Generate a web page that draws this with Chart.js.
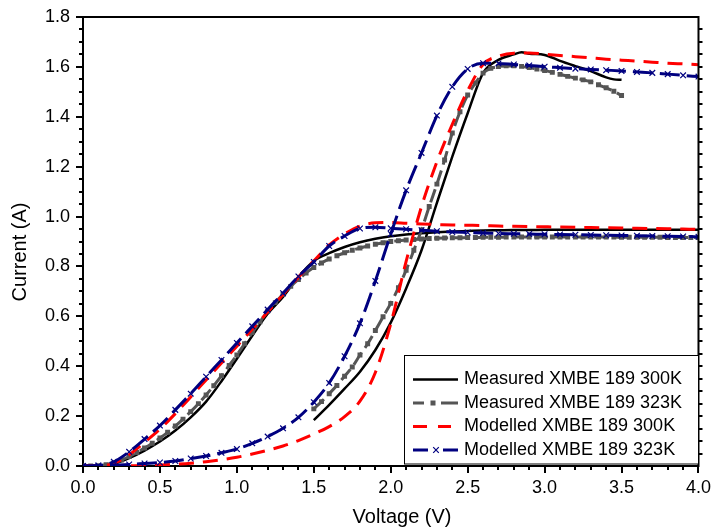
<!DOCTYPE html>
<html>
<head>
<meta charset="utf-8">
<script src="https://cdn.jsdelivr.net/npm/chart.js@4/dist/chart.umd.min.js"></script>
<style>
  html, body { margin: 0; padding: 0; background: #fff; }
  canvas { display: block; }
</style>
</head>
<body>
<canvas id="chart" width="715" height="532"></canvas>
<script>
// Voltage grids (V)
const V01 = [0.0,0.1,0.2,0.3,0.4,0.5,0.6,0.7,0.8,0.9,1.0,1.1,1.2,1.3,1.4,1.5,1.6,1.7,1.8,1.9,
             2.0,2.1,2.2,2.3,2.4,2.5,2.6,2.7,2.8,2.9,3.0,3.1,3.2,3.3,3.4,3.5,3.6,3.7,3.8,3.9,4.0];
const V005 = [0.00,0.05,0.10,0.15,0.20,0.25,0.30,0.35,0.40,0.45,0.50,0.55,0.60,0.65,0.70,0.75,
              0.80,0.85,0.90,0.95,1.00,1.05,1.10,1.15,1.20,1.25,1.30,1.35,1.40,1.45,1.50,1.55,
              1.60,1.65,1.70,1.75,1.80,1.85,1.90,1.95,2.00,2.05,2.10,2.15,2.20,2.25,2.30,2.35,
              2.40,2.45,2.50,2.55,2.60,2.65,2.70,2.75,2.80,2.85,2.90,2.95,3.00,3.05,3.10,3.15,
              3.20,3.25,3.30,3.35,3.40,3.45,3.50,3.55,3.60,3.65,3.70,3.75,3.80,3.85,3.90,3.95,4.00];
const V_MEAS_HIGH = [1.50,1.55,1.60,1.65,1.70,1.75,1.80,1.85,1.90,1.95,2.00,2.05,2.10,2.15,2.20,
                     2.25,2.30,2.35,2.40,2.45,2.50,2.55,2.60,2.65,2.70,2.75,2.80,2.85,2.90,2.95,
                     3.00,3.05,3.10,3.15,3.20,3.25,3.30,3.35,3.40,3.45,3.50];
const V_BLACK_HIGH = [1.5,1.6,1.7,1.8,1.9,2.0,2.1,2.2,2.3,2.4,2.5,2.6,2.7,2.8,2.85,2.9,3.0,3.1,3.2,3.3,3.4,3.45,3.5];

// Currents (A)
const measured300Low = [0,0.001,0.009,0.032,0.062,0.098,0.142,0.195,0.258,0.34,0.43,0.522,0.61,0.678,0.758,
                        0.822,0.853,0.878,0.897,0.911,0.921,0.928,0.933,0.937,0.94,0.942,0.944,0.945,0.946,0.946,
                        0.947,0.947,0.947,0.947,0.947,0.947,0.947,0.947,0.947,0.947,0.947];
const measured300High = [0.184,0.245,0.31,0.378,0.465,0.575,0.712,0.865,1.055,1.24,1.414,1.575,1.628,1.65,1.659,
                         1.653,1.648,1.624,1.603,1.583,1.558,1.55,1.548];
const measured323Low = [0,0,0.001,0.005,0.012,0.024,0.038,0.054,0.072,0.091,0.112,0.135,0.16,0.188,0.218,0.25,
                        0.285,0.322,0.362,0.403,0.445,0.49,0.535,0.578,0.62,0.655,0.688,0.72,0.748,0.774,0.796,0.814,
                        0.83,0.843,0.855,0.865,0.874,0.882,0.889,0.895,0.9,0.903,0.906,0.908,0.91,0.912,0.913,0.914,
                        0.915,0.915,0.916,0.916,0.917,0.917,0.917,0.918,0.918,0.918,0.918,0.918,0.918,0.918,0.918,0.918,
                        0.918,0.918,0.918,0.918,0.918,0.918,0.917,0.917,0.917,0.917,0.917,0.917,0.916,0.916,0.916,0.916,0.916];
const measured323High = [0.229,0.258,0.29,0.323,0.36,0.397,0.445,0.49,0.543,0.598,0.652,0.715,0.785,0.865,0.946,
                         1.04,1.13,1.227,1.335,1.42,1.487,1.535,1.575,1.594,1.601,1.604,1.604,1.602,1.597,1.591,
                         1.585,1.578,1.57,1.562,1.555,1.548,1.54,1.528,1.516,1.502,1.485];
const modelled300Low = [0,0,0.01,0.045,0.095,0.148,0.21,0.277,0.345,0.413,0.48,0.548,0.617,0.687,0.757,
                        0.822,0.886,0.93,0.962,0.975,0.976,0.973,0.97,0.968,0.966,0.965,0.964,0.962,0.961,0.96,
                        0.959,0.958,0.957,0.956,0.955,0.954,0.953,0.952,0.951,0.95,0.949];
const modelled300High = [0,0,0,0.001,0.002,0.004,0.007,0.011,0.017,0.025,0.035,0.048,0.063,0.08,0.102,
                         0.128,0.158,0.198,0.26,0.375,0.57,0.82,1.04,1.22,1.37,1.505,1.61,1.643,1.655,1.656,
                         1.651,1.646,1.641,1.636,1.631,1.627,1.623,1.619,1.615,1.612,1.609];
const modelled323Low = [0,0.002,0.017,0.057,0.108,0.162,0.225,0.29,0.358,0.425,0.493,0.56,0.627,0.693,0.76,
                        0.818,0.882,0.922,0.952,0.957,0.953,0.949,0.945,0.941,0.938,0.936,0.934,0.932,0.931,0.93,
                        0.929,0.928,0.927,0.926,0.925,0.924,0.923,0.922,0.921,0.92,0.919];
const modelled323High = [0,0.001,0.003,0.006,0.01,0.014,0.02,0.03,0.04,0.053,0.068,0.091,0.118,0.151,0.195,
                         0.256,0.333,0.44,0.572,0.742,0.93,1.105,1.255,1.405,1.52,1.592,1.615,1.614,1.61,1.606,
                         1.601,1.597,1.593,1.59,1.587,1.584,1.58,1.576,1.571,1.566,1.561];

const xTicks = [0.0, 0.5, 1.0, 1.5, 2.0, 2.5, 3.0, 3.5, 4.0];
const yTicks = [0.0, 0.2, 0.4, 0.6, 0.8, 1.0, 1.2, 1.4, 1.6, 1.8];
const seriesNames = ['Measured XMBE 189 300K', 'Measured XMBE 189 323K',
                     'Modelled XMBE 189 300K', 'Modelled XMBE 189 323K'];

const FONT = '"Liberation Sans", Arial, Helvetica, sans-serif';
const BLACK = '#000000', GREY = '#555555', RED = '#ff0000', NAVY = '#000080';

const pts = (xs, ys) => xs.map((x, i) => ({ x, y: ys[i] }));

const styles = [
  { borderColor: BLACK, borderWidth: 2.5, borderDash: [], pointRadius: 0, order: 4 },
  { borderColor: GREY, borderWidth: 3, borderDash: [14, 6], pointStyle: 'rect', pointRadius: 3.5,
    pointBackgroundColor: GREY, pointBorderColor: GREY, pointBorderWidth: 0, order: 3 },
  { borderColor: RED, borderWidth: 3, borderDash: [15, 9], pointRadius: 0, order: 2 },
  { borderColor: NAVY, borderWidth: 3, borderDash: [20, 7], pointStyle: 'crossRot', pointRadius: 4,
    pointBorderColor: NAVY, pointBorderWidth: 1.2, order: 1 }
];

const mk = (si, data) => Object.assign({
  label: seriesNames[si], data, fill: false, cubicInterpolationMode: 'monotone', backgroundColor: 'transparent'
}, styles[si]);

const datasets = [
  mk(0, pts(V01, measured300Low)),
  mk(0, pts(V_BLACK_HIGH, measured300High)),
  mk(1, pts(V005, measured323Low)),
  mk(1, pts(V_MEAS_HIGH, measured323High)),
  mk(2, pts(V01, modelled300Low)),
  mk(2, pts(V01, modelled300High)),
  mk(3, pts(V01, modelled323Low)),
  mk(3, pts(V01, modelled323High))
];

// Frame, minor ticks, axis titles and the boxed legend
const decorations = {
  id: 'decorations',
  afterDraw(chart) {
    const { ctx, chartArea: a, scales: { x, y } } = chart;
    ctx.save();
    ctx.strokeStyle = BLACK;
    ctx.lineWidth = 2;
    ctx.setLineDash([]);
    ctx.beginPath();
    ctx.moveTo(a.left - 1, a.top);
    ctx.lineTo(a.right, a.top);
    ctx.lineTo(a.right, a.bottom + 1);
    ctx.stroke();

    ctx.beginPath();
    for (let i = 1; i < 40; i++) {
      if (i % 5 === 0) continue;
      const px = Math.round(x.getPixelForValue(i / 10));
      ctx.moveTo(px, a.bottom); ctx.lineTo(px, a.bottom + 4);
    }
    for (let j = 1; j < 36; j++) {
      const py = Math.round(y.getPixelForValue(j * 0.05));
      if (j % 4 !== 0) { ctx.moveTo(a.left - 4, py); ctx.lineTo(a.left, py); }
      ctx.moveTo(a.right, py); ctx.lineTo(a.right + 4, py);
    }
    ctx.stroke();

    // axis titles
    ctx.fillStyle = BLACK;
    ctx.font = '20px ' + FONT;
    ctx.textAlign = 'center';
    ctx.textBaseline = 'middle';
    ctx.fillText('Voltage (V)', 402, 517);
    ctx.save();
    ctx.translate(20, 252);
    ctx.rotate(-Math.PI / 2);
    ctx.fillText('Current (A)', 0, 0);
    ctx.restore();

    // legend
    const box = { l: 404.5, t: 355.5, r: 698.5, b: 464 };
    ctx.fillStyle = '#fff';
    ctx.fillRect(box.l, box.t, box.r - box.l, box.b - box.t);
    ctx.lineWidth = 1;
    ctx.strokeRect(box.l, box.t, box.r - box.l, box.b - box.t);
    const rows = [379.5, 403, 426.5, 450];
    const x0 = 413, x1 = 458;
    ctx.lineCap = 'butt';
    // measured 300K
    ctx.strokeStyle = BLACK; ctx.lineWidth = 2.5;
    ctx.beginPath(); ctx.moveTo(x0, rows[0]); ctx.lineTo(x1, rows[0]); ctx.stroke();
    // measured 323K
    ctx.strokeStyle = GREY; ctx.lineWidth = 3;
    ctx.beginPath(); ctx.moveTo(x0, rows[1]); ctx.lineTo(x0 + 11, rows[1]);
    ctx.moveTo(x0 + 28, rows[1]); ctx.lineTo(x1, rows[1]); ctx.stroke();
    ctx.fillStyle = GREY; ctx.fillRect(x0 + 20 - 2.5, rows[1] - 2.5, 5, 5);
    // modelled 300K
    ctx.strokeStyle = RED;
    ctx.beginPath(); ctx.moveTo(x0, rows[2]); ctx.lineTo(x0 + 14, rows[2]);
    ctx.moveTo(x0 + 25, rows[2]); ctx.lineTo(x0 + 38, rows[2]); ctx.stroke();
    // modelled 323K
    ctx.strokeStyle = NAVY;
    ctx.beginPath(); ctx.moveTo(x0, rows[3]); ctx.lineTo(x0 + 15, rows[3]);
    ctx.moveTo(x0 + 30, rows[3]); ctx.lineTo(x1, rows[3]); ctx.stroke();
    ctx.lineWidth = 1.2;
    const cx = x0 + 23, r = 2.8;
    ctx.beginPath();
    ctx.moveTo(cx - r, rows[3] - r); ctx.lineTo(cx + r, rows[3] + r);
    ctx.moveTo(cx - r, rows[3] + r); ctx.lineTo(cx + r, rows[3] - r);
    ctx.stroke();

    ctx.fillStyle = BLACK;
    ctx.font = '18px ' + FONT;
    ctx.textAlign = 'left';
    seriesNames.forEach((name, i) => ctx.fillText(name, 464, rows[i]));
    ctx.restore();
  }
};

new Chart(document.getElementById('chart'), {
  type: 'line',
  data: { datasets },
  plugins: [decorations],
  options: {
    responsive: false,
    animation: false,
    devicePixelRatio: 1,
    layout: { padding: { top: 17, right: 12, left: 0, bottom: 0 } },
    plugins: { legend: { display: false }, tooltip: { enabled: false } },
    scales: {
      x: {
        type: 'linear', min: 0, max: 4,
        afterFit: s => { s.height = 66; },
        afterBuildTicks: s => { s.ticks = xTicks.map(v => ({ value: v })); },
        ticks: { callback: v => v.toFixed(1), font: { family: FONT, size: 18 }, color: BLACK,
                 padding: 4, maxRotation: 0, autoSkip: false },
        grid: { drawOnChartArea: false, drawTicks: true, tickLength: 7, lineWidth: 2, color: BLACK },
        border: { display: true, color: BLACK, width: 2 }
      },
      y: {
        type: 'linear', min: 0, max: 1.8,
        afterFit: s => { s.width = 83; },
        afterBuildTicks: s => { s.ticks = yTicks.map(v => ({ value: v })); },
        ticks: { callback: v => v.toFixed(1), font: { family: FONT, size: 18 }, color: BLACK,
                 padding: 6, autoSkip: false },
        grid: { drawOnChartArea: false, drawTicks: true, tickLength: 7, lineWidth: 2, color: BLACK },
        border: { display: true, color: BLACK, width: 2 }
      }
    }
  }
});
</script>
</body>
</html>
